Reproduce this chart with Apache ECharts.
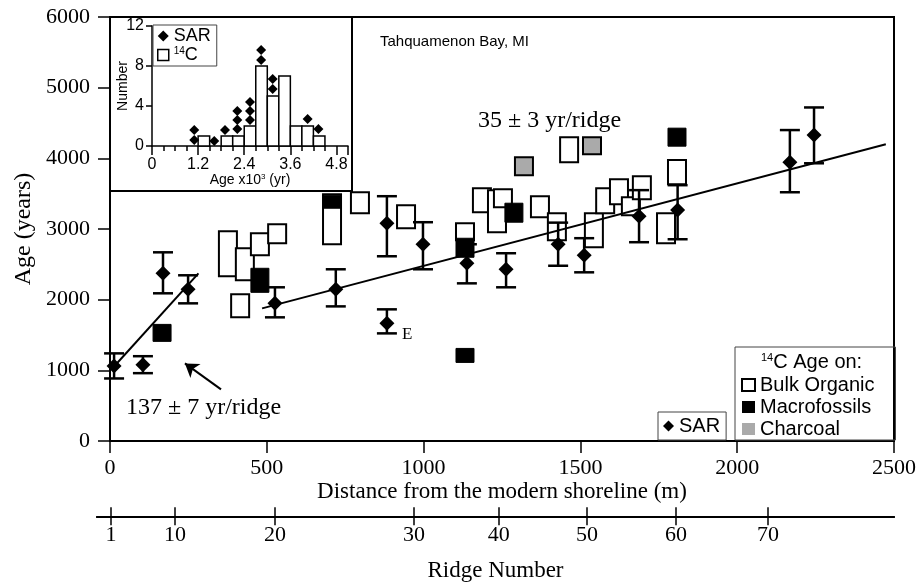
<!DOCTYPE html>
<html>
<head>
<meta charset="utf-8">
<script src="https://cdn.jsdelivr.net/npm/echarts@6/dist/echarts.min.js"></script>
<style>
  html, body { margin: 0; padding: 0; background: #fff; }
  #chart { width: 919px; height: 583px; }
</style>
</head>
<body>
<div id="chart"></div>
<script>
// SAR (optically dated) ridges: distance (m), age and error range (yr)
var sarDist = [13, 105, 169, 249, 526, 720, 883, 883, 998, 1138, 1263, 1429, 1512, 1687, 1810, 2168, 2245];
var sarAge = [1060, 1080, 2373, 2146, 1948, 2146, 3082, 1665, 2784, 2515, 2430, 2785, 2628, 3180, 3270, 3945, 4330];
var sarLow = [885, 960, 2090, 1948, 1750, 1905, 2614, 1523, 2430, 2231, 2175, 2480, 2387, 2813, 2855, 3520, 3930];
var sarHigh = [1240, 1200, 2670, 2345, 2175, 2430, 3464, 1863, 3096, 2784, 2657, 3090, 2870, 3550, 3620, 4400, 4720];

// 14C ages: distance (m), top and bottom of the age range (yr)
var bulkDist = [376, 430, 415, 478, 533, 708, 797, 944, 1132, 1186, 1234, 1253, 1371, 1464, 1425, 1543, 1579, 1623, 1661, 1696, 1773, 1808];
var bulkTop = [2968, 2727, 2076, 2940, 3067, 3492, 3520, 3336, 3082, 3577, 3549, 3563, 3463, 4300, 3223, 3223, 3577, 3705, 3450, 3747, 3223, 3975];
var bulkBottom = [2331, 2274, 1750, 2628, 2798, 2784, 3223, 3010, 2840, 3237, 2954, 3308, 3166, 3945, 2840, 2740, 3223, 3350, 3195, 3421, 2798, 3634];

var macroDist = [478, 166, 708, 1132, 1132, 1288, 1808];
var macroTop = [2444, 1650, 3478, 2869, 1310, 3365, 4427];
var macroBottom = [2104, 1410, 3294, 2600, 1112, 3096, 4172];

var charDist = [1320, 1537];
var charTop = [4017, 4300];
var charBottom = [3762, 4059];

// fitted lines
var fit1Dist = [10, 282];
var fit1Age = [1040, 2373];
var fit2Dist = [485, 2474];
var fit2Age = [1877, 4200];
var arrowFrom = [354, 730];
var arrowTo = [239, 1098];

// ridge number axis (ridge -> distance in m)
var ridgeNums = [1, 10, 20, 30, 40, 50, 60, 70];
var ridgePos = [3, 207, 526, 969, 1240, 1521, 1805, 2098];

// inset histogram (age x10^3 yr)
var binWidth = 0.3;
var histStart = [1.2, 1.8, 2.1, 2.4, 2.7, 3.0, 3.3, 3.6, 3.9, 4.2];
var histCount = [1, 1, 1, 2, 8, 5, 7, 2, 2, 1];
var insetSarAge = [1.10, 1.10, 1.62, 1.90, 2.22, 2.22, 2.22, 2.55, 2.55, 2.55, 2.84, 2.84, 3.14, 3.14, 4.05, 4.33];
var insetSarY = [0.6, 1.6, 0.5, 1.6, 1.7, 2.6, 3.5, 2.6, 3.5, 4.4, 8.6, 9.6, 5.7, 6.7, 2.7, 1.7];

var serif = 'Liberation Serif';
var sans = 'Liberation Sans';

function zip() {
  var cols = Array.prototype.slice.call(arguments);
  return cols[0].map(function (v, i) {
    return cols.map(function (c) { return c[i]; });
  });
}

function plain(v) { return String(v); }

function boxItem(fill, stroke, lw) {
  return function (params, api) {
    var top = api.coord([api.value(0), api.value(1)]);
    var bot = api.coord([api.value(0), api.value(2)]);
    var w = 18;
    return {
      type: 'rect',
      shape: { x: top[0] - w / 2, y: top[1], width: w, height: bot[1] - top[1] },
      style: { fill: fill, stroke: stroke, lineWidth: lw }
    };
  };
}

function errorItem(params, api) {
  var x = api.value(0);
  var lo = api.coord([x, api.value(1)]);
  var hi = api.coord([x, api.value(2)]);
  var cap = 10;
  var st = { stroke: '#000', lineWidth: 2.5 };
  return {
    type: 'group',
    children: [
      { type: 'line', shape: { x1: lo[0], y1: lo[1], x2: hi[0], y2: hi[1] }, style: st },
      { type: 'line', shape: { x1: lo[0] - cap, y1: lo[1], x2: lo[0] + cap, y2: lo[1] }, style: st },
      { type: 'line', shape: { x1: hi[0] - cap, y1: hi[1], x2: hi[0] + cap, y2: hi[1] }, style: st }
    ]
  };
}

function histItem(params, api) {
  var p0 = api.coord([api.value(0), api.value(2)]);
  var p1 = api.coord([api.value(1), 0]);
  return {
    type: 'rect',
    shape: { x: p0[0], y: p0[1], width: p1[0] - p0[0], height: p1[1] - p0[1] },
    style: { fill: '#fff', stroke: '#000', lineWidth: 1.5 }
  };
}

var histEnd = histStart.map(function (s) { return s + binWidth; });

var blackLine = { color: '#000', width: 2 };

var option = {
  animation: false,
  backgroundColor: '#fff',
  textStyle: { fontFamily: serif, color: '#000' },
  title: [{
    text: '{s|14}C Age on:',
    left: 761,
    top: 352,
    padding: 0,
    textStyle: {
      fontFamily: sans, fontSize: 20, fontWeight: 'normal', color: '#000',
      rich: { s: { fontFamily: sans, fontSize: 11, verticalAlign: 'top', color: '#000' } }
    }
  }],
  legend: [
    {
      left: 153, top: 25, orient: 'vertical',
      selectedMode: false,
      data: [
        { name: 'SAR', icon: 'diamond' },
        { name: '14C', icon: 'rect', itemStyle: { color: '#fff', borderColor: '#000', borderWidth: 1.5 } }
      ],
      itemWidth: 11, itemHeight: 11, itemGap: 1,
      padding: [2, 6, 2, 4],
      borderColor: '#444', borderWidth: 1,
      backgroundColor: '#fff',
      formatter: function (name) { return name === '14C' ? '{s|14}C' : name; },
      textStyle: {
        fontFamily: sans, fontSize: 18, color: '#000',
        rich: { s: { fontFamily: sans, fontSize: 10, verticalAlign: 'top', color: '#000' } }
      }
    },
    {
      left: 658, top: 412,
      selectedMode: false,
      data: [{ name: 'SAR', icon: 'diamond' }],
      itemWidth: 11, itemHeight: 11,
      padding: [4, 6, 4, 5],
      borderColor: '#444', borderWidth: 1,
      backgroundColor: '#fff',
      textStyle: { fontFamily: sans, fontSize: 20, color: '#000' }
    },
    {
      left: 735, top: 347, orient: 'vertical',
      selectedMode: false,
      data: [
        { name: 'Bulk Organic', icon: 'rect', itemStyle: { color: '#fff', borderColor: '#000', borderWidth: 2 } },
        { name: 'Macrofossils', icon: 'rect', itemStyle: { color: '#000', borderWidth: 0 } },
        { name: 'Charcoal', icon: 'rect', itemStyle: { color: '#aaa', borderWidth: 0 } }
      ],
      itemWidth: 13, itemHeight: 12, itemGap: 2,
      padding: [28, 21, 1, 6],
      borderColor: '#444', borderWidth: 1,
      textStyle: { fontFamily: sans, fontSize: 20, color: '#000' }
    }
  ],
  grid: [
    { left: 110, top: 17, width: 784, height: 424, show: true, borderColor: '#000', borderWidth: 2 },
    { left: 152, top: 26, width: 196, height: 120 },
    { left: 97, top: 516, width: 797, height: 1 }
  ],
  xAxis: [
    {
      gridIndex: 0, type: 'value', min: 0, max: 2500, interval: 500,
      name: 'Distance from the modern shoreline (m)',
      nameLocation: 'middle', nameGap: 39, nameMoveOverlap: false,
      nameTextStyle: { fontSize: 23, color: '#000' },
      axisLine: { lineStyle: blackLine },
      axisTick: { length: 12, lineStyle: { color: '#000', width: 1.5 } },
      axisLabel: { fontSize: 22, margin: 16, color: '#000', formatter: plain },
      splitLine: { show: false }
    },
    {
      gridIndex: 1, type: 'value', min: 0, max: 5.1, interval: 1.2,
      name: 'Age x10{s|3} (yr)',
      nameLocation: 'middle', nameGap: 27, nameMoveOverlap: false,
      nameTextStyle: {
        fontFamily: sans, fontSize: 14, color: '#000',
        rich: { s: { fontFamily: sans, fontSize: 8, verticalAlign: 'top', color: '#000' } }
      },
      axisLine: { lineStyle: { color: '#000', width: 1.5 } },
      axisTick: { length: 9, lineStyle: { color: '#000', width: 1.5 } },
      minorTick: { show: true, splitNumber: 4, length: 5, lineStyle: { color: '#000', width: 1.5 } },
      axisLabel: {
        fontFamily: sans, fontSize: 16, margin: 11, color: '#000',
        formatter: function (v) { return v > 4.9 ? '' : String(v); }
      },
      splitLine: { show: false }
    },
    {
      gridIndex: 2, type: 'value', position: 'top', min: -41.5, max: 2500,
      axisLine: { lineStyle: blackLine },
      axisTick: { customValues: ridgePos, length: 9, lineStyle: { color: '#000', width: 1.5 } },
      axisLabel: { show: false },
      splitLine: { show: false }
    },
    {
      gridIndex: 2, type: 'value', position: 'bottom', min: -41.5, max: 2500,
      name: 'Ridge Number',
      nameLocation: 'middle', nameGap: 43, nameMoveOverlap: false,
      nameTextStyle: { fontSize: 23, color: '#000' },
      axisLine: { lineStyle: blackLine },
      axisTick: { customValues: ridgePos, length: 9, lineStyle: { color: '#000', width: 1.5 } },
      axisLabel: {
        customValues: ridgePos, fontSize: 22, margin: 8, color: '#000',
        formatter: function (v) {
          var i = ridgePos.indexOf(v);
          return i < 0 ? '' : String(ridgeNums[i]);
        }
      },
      splitLine: { show: false }
    }
  ],
  yAxis: [
    {
      gridIndex: 0, type: 'value', min: 0, max: 6000, interval: 1000,
      name: 'Age (years)',
      nameLocation: 'middle', nameGap: 74, nameMoveOverlap: false,
      nameTextStyle: { fontSize: 24, color: '#000' },
      axisLine: { show: true, lineStyle: blackLine },
      axisTick: { show: true, length: 12, lineStyle: { color: '#000', width: 1.5 } },
      axisLabel: { fontSize: 22, margin: 20, color: '#000', formatter: plain },
      splitLine: { show: false }
    },
    {
      gridIndex: 1, type: 'value', min: 0, max: 12, interval: 4,
      name: 'Number',
      nameLocation: 'middle', nameGap: 22, nameMoveOverlap: false,
      nameTextStyle: { fontFamily: sans, fontSize: 14, color: '#000' },
      axisLine: { show: true, lineStyle: { color: '#000', width: 1.5 } },
      axisTick: { show: true, length: 6, lineStyle: { color: '#000', width: 1.5 } },
      axisLabel: { fontFamily: sans, fontSize: 16, margin: 8, color: '#000' },
      splitLine: { show: false }
    },
    { gridIndex: 2, type: 'value', min: 0, max: 1, show: false }
  ],
  graphic: [
    {
      type: 'rect', z: -1,
      shape: { x: 110, y: 17, width: 242, height: 174 },
      style: { fill: '#fff', stroke: '#000', lineWidth: 2 }
    },
    { type: 'text', left: 380, top: 34, style: { text: 'Tahquamenon Bay, MI', fontFamily: sans, fontSize: 15, fill: '#000' } },
    { type: 'text', left: 126, top: 396, style: { text: '137 \u00b1 7 yr/ridge', fontFamily: serif, fontSize: 24, fill: '#000' } },
    { type: 'text', left: 478, top: 109, style: { text: '35 \u00b1 3 yr/ridge', fontFamily: serif, fontSize: 24, fill: '#000' } },
    { type: 'text', left: 402, top: 326, style: { text: 'E', fontFamily: serif, fontSize: 17, fill: '#000' } }
  ],
  series: [
    {
      name: '14C', type: 'custom', xAxisIndex: 1, yAxisIndex: 1,
      renderItem: histItem,
      encode: { x: [0, 1], y: 2 },
      itemStyle: { color: '#fff', borderColor: '#000' },
      data: zip(histStart, histEnd, histCount)
    },
    {
      name: 'SAR', type: 'scatter', xAxisIndex: 1, yAxisIndex: 1,
      symbol: 'diamond', symbolSize: 10,
      itemStyle: { color: '#000', opacity: 1 },
      data: zip(insetSarAge, insetSarY)
    },
    {
      name: 'Bulk Organic', type: 'custom',
      renderItem: boxItem('#fff', '#000', 2),
      encode: { x: 0, y: [1, 2] },
      itemStyle: { color: '#fff', borderColor: '#000' },
      data: zip(bulkDist, bulkTop, bulkBottom)
    },
    {
      name: 'Macrofossils', type: 'custom',
      renderItem: boxItem('#000', '#000', 1),
      encode: { x: 0, y: [1, 2] },
      itemStyle: { color: '#000' },
      data: zip(macroDist, macroTop, macroBottom)
    },
    {
      name: 'Charcoal', type: 'custom',
      renderItem: boxItem('#aaa', '#000', 2),
      encode: { x: 0, y: [1, 2] },
      itemStyle: { color: '#aaa' },
      data: zip(charDist, charTop, charBottom)
    },
    {
      name: 'SAR error', type: 'custom',
      renderItem: errorItem,
      encode: { x: 0, y: [1, 2] },
      data: zip(sarDist, sarLow, sarHigh)
    },
    {
      name: 'fit1', type: 'line', symbol: 'none',
      lineStyle: blackLine,
      data: zip(fit1Dist, fit1Age),
      markLine: {
        silent: true,
        symbol: ['none', 'arrow'],
        symbolSize: 13,
        label: { show: false },
        lineStyle: { color: '#000', width: 2, type: 'solid' },
        data: [[{ coord: arrowFrom }, { coord: arrowTo }]]
      }
    },
    {
      name: 'fit2', type: 'line', symbol: 'none',
      lineStyle: blackLine,
      data: zip(fit2Dist, fit2Age)
    },
    {
      name: 'SAR', type: 'scatter',
      symbol: 'diamond', symbolSize: 15,
      itemStyle: { color: '#000', opacity: 1 },
      data: zip(sarDist, sarAge)
    }
  ]
};

var chart = echarts.init(document.getElementById('chart'));
chart.setOption(option);
</script>
</body>
</html>
